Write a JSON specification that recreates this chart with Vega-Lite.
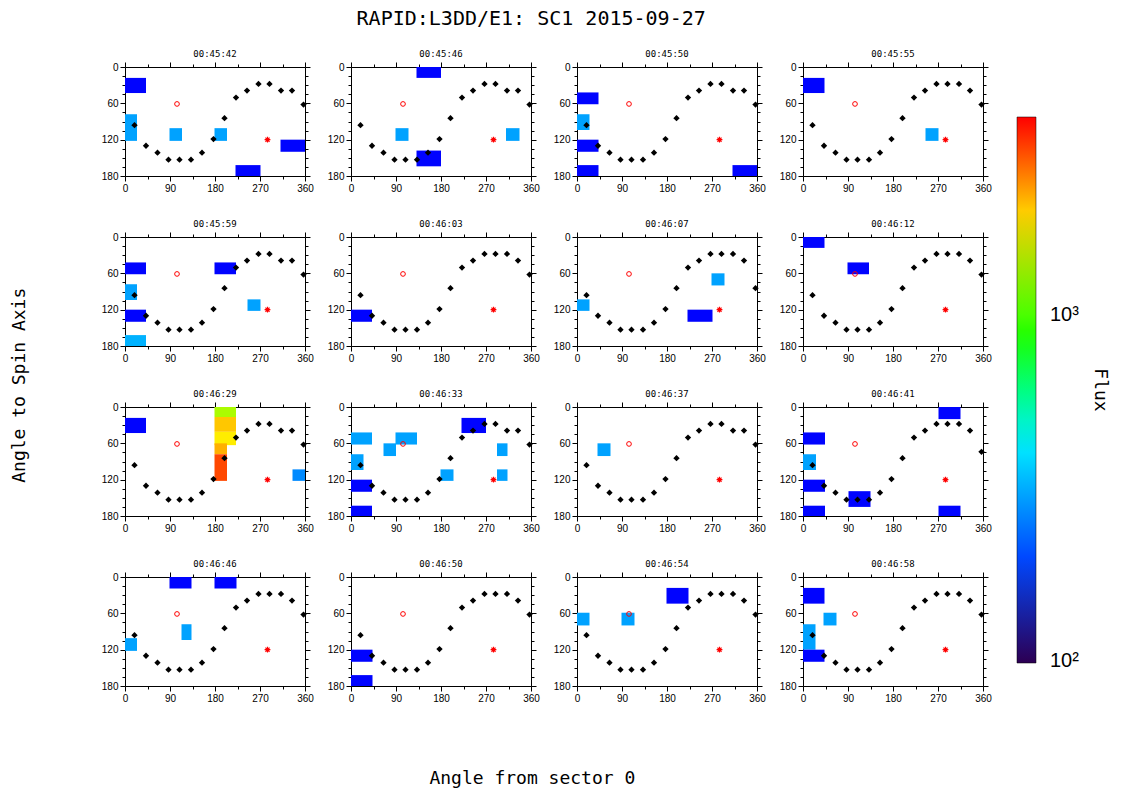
{
  "$schema": "https://vega.github.io/schema/vega-lite/v6.json",
  "padding": {"left": 11, "top": 8, "right": 5, "bottom": 5},
  "title": {"text": "RAPID:L3DD/E1: SC1 2015-09-27", "fontSize": 20, "fontWeight": "normal", "font": "DejaVu Sans Mono", "anchor": "middle", "frame": "bounds", "dx": -29, "offset": 21, "color": "black"},
  "data": {"values": [
    {"t":"00:45:42","k":"c","x":0,"x2":42,"y":18,"y2":43,"f":144},
    {"t":"00:45:42","k":"c","x":0,"x2":24,"y":78,"y2":122,"f":302},
    {"t":"00:45:42","k":"c","x":89,"x2":114,"y":101,"y2":122,"f":302},
    {"t":"00:45:42","k":"c","x":179,"x2":204,"y":101,"y2":122,"f":302},
    {"t":"00:45:42","k":"c","x":311,"x2":360,"y":120,"y2":140,"f":144},
    {"t":"00:45:42","k":"c","x":221,"x2":271,"y":162,"y2":180,"f":144},
    {"t":"00:45:46","k":"c","x":131,"x2":180,"y":0,"y2":18,"f":144},
    {"t":"00:45:46","k":"c","x":89,"x2":115,"y":101,"y2":122,"f":302},
    {"t":"00:45:46","k":"c","x":131,"x2":180,"y":138,"y2":164,"f":144},
    {"t":"00:45:46","k":"c","x":310,"x2":337,"y":101,"y2":122,"f":302},
    {"t":"00:45:50","k":"c","x":0,"x2":43,"y":42,"y2":61.5,"f":144},
    {"t":"00:45:50","k":"c","x":0,"x2":25,"y":78,"y2":104,"f":302},
    {"t":"00:45:50","k":"c","x":0,"x2":43,"y":120,"y2":140,"f":144},
    {"t":"00:45:50","k":"c","x":0,"x2":43,"y":162,"y2":180,"f":144},
    {"t":"00:45:50","k":"c","x":311,"x2":360,"y":162,"y2":180,"f":144},
    {"t":"00:45:55","k":"c","x":0,"x2":43,"y":18,"y2":43,"f":144},
    {"t":"00:45:55","k":"c","x":245,"x2":271,"y":101,"y2":122,"f":302},
    {"t":"00:45:59","k":"c","x":0,"x2":42,"y":42,"y2":61.5,"f":144},
    {"t":"00:45:59","k":"c","x":0,"x2":24,"y":78,"y2":104,"f":302},
    {"t":"00:45:59","k":"c","x":0,"x2":42,"y":120,"y2":140,"f":144},
    {"t":"00:45:59","k":"c","x":0,"x2":42,"y":162,"y2":180,"f":324},
    {"t":"00:45:59","k":"c","x":179,"x2":222,"y":42,"y2":61.5,"f":144},
    {"t":"00:45:59","k":"c","x":245,"x2":271,"y":103,"y2":122,"f":302},
    {"t":"00:46:03","k":"c","x":0,"x2":42,"y":120,"y2":140,"f":144},
    {"t":"00:46:07","k":"c","x":0,"x2":25,"y":103,"y2":122,"f":302},
    {"t":"00:46:07","k":"c","x":269,"x2":295,"y":60,"y2":80,"f":302},
    {"t":"00:46:07","k":"c","x":221,"x2":271,"y":120,"y2":140,"f":144},
    {"t":"00:46:12","k":"c","x":0,"x2":43,"y":0,"y2":18,"f":144},
    {"t":"00:46:12","k":"c","x":89,"x2":132,"y":42,"y2":61.5,"f":144},
    {"t":"00:46:29","k":"c","x":0,"x2":42,"y":18,"y2":43,"f":144},
    {"t":"00:46:29","k":"c","x":179,"x2":222,"y":0,"y2":16.5,"f":1345},
    {"t":"00:46:29","k":"c","x":179,"x2":222,"y":16.5,"y2":41,"f":2024},
    {"t":"00:46:29","k":"c","x":179,"x2":222,"y":41,"y2":63,"f":1803},
    {"t":"00:46:29","k":"c","x":179,"x2":204,"y":60,"y2":78,"f":2176},
    {"t":"00:46:29","k":"c","x":179,"x2":204,"y":78,"y2":122,"f":2985},
    {"t":"00:46:29","k":"c","x":335,"x2":360,"y":103,"y2":122,"f":270},
    {"t":"00:46:33","k":"c","x":0,"x2":42,"y":42,"y2":62,"f":302},
    {"t":"00:46:33","k":"c","x":0,"x2":25,"y":78,"y2":104,"f":302},
    {"t":"00:46:33","k":"c","x":0,"x2":42,"y":120,"y2":140,"f":144},
    {"t":"00:46:33","k":"c","x":0,"x2":42,"y":163,"y2":180,"f":144},
    {"t":"00:46:33","k":"c","x":65,"x2":90,"y":60,"y2":81,"f":302},
    {"t":"00:46:33","k":"c","x":89,"x2":132,"y":42,"y2":62,"f":302},
    {"t":"00:46:33","k":"c","x":221,"x2":270,"y":18,"y2":43,"f":144},
    {"t":"00:46:33","k":"c","x":179,"x2":205,"y":103,"y2":122,"f":302},
    {"t":"00:46:33","k":"c","x":292,"x2":313,"y":60,"y2":81,"f":302},
    {"t":"00:46:33","k":"c","x":292,"x2":313,"y":103,"y2":122,"f":302},
    {"t":"00:46:37","k":"c","x":41,"x2":67,"y":60,"y2":81,"f":302},
    {"t":"00:46:41","k":"c","x":0,"x2":44,"y":42,"y2":62,"f":144},
    {"t":"00:46:41","k":"c","x":0,"x2":26,"y":78,"y2":104,"f":302},
    {"t":"00:46:41","k":"c","x":0,"x2":44,"y":120,"y2":140,"f":144},
    {"t":"00:46:41","k":"c","x":0,"x2":44,"y":163,"y2":180,"f":144},
    {"t":"00:46:41","k":"c","x":91,"x2":135,"y":139,"y2":165,"f":144},
    {"t":"00:46:41","k":"c","x":271,"x2":315,"y":0,"y2":20,"f":144},
    {"t":"00:46:41","k":"c","x":271,"x2":315,"y":163,"y2":180,"f":144},
    {"t":"00:46:46","k":"c","x":89,"x2":133,"y":0,"y2":19,"f":144},
    {"t":"00:46:46","k":"c","x":179,"x2":223,"y":0,"y2":19,"f":144},
    {"t":"00:46:46","k":"c","x":113,"x2":133,"y":78,"y2":104,"f":302},
    {"t":"00:46:46","k":"c","x":0,"x2":24,"y":101,"y2":122,"f":302},
    {"t":"00:46:50","k":"c","x":0,"x2":43,"y":120,"y2":140,"f":144},
    {"t":"00:46:50","k":"c","x":0,"x2":43,"y":162,"y2":180,"f":144},
    {"t":"00:46:54","k":"c","x":0,"x2":25,"y":59,"y2":80,"f":302},
    {"t":"00:46:54","k":"c","x":89,"x2":115,"y":59,"y2":80,"f":302},
    {"t":"00:46:54","k":"c","x":179,"x2":223,"y":18,"y2":44,"f":144},
    {"t":"00:46:58","k":"c","x":0,"x2":43,"y":18,"y2":44,"f":144},
    {"t":"00:46:58","k":"c","x":41,"x2":67,"y":59,"y2":80,"f":302},
    {"t":"00:46:58","k":"c","x":0,"x2":25,"y":78,"y2":120,"f":302},
    {"t":"00:46:58","k":"c","x":0,"x2":43,"y":120,"y2":140,"f":144},

    {"t":"00:45:42","k":"d","x":19,"y":96},{"t":"00:45:42","k":"d","x":42,"y":130},{"t":"00:45:42","k":"d","x":65,"y":141.5},{"t":"00:45:42","k":"d","x":87,"y":153},{"t":"00:45:42","k":"d","x":109,"y":153},{"t":"00:45:42","k":"d","x":132,"y":153},{"t":"00:45:42","k":"d","x":154,"y":141.5},{"t":"00:45:42","k":"d","x":177,"y":119},{"t":"00:45:42","k":"d","x":199,"y":84.5},{"t":"00:45:42","k":"d","x":222,"y":50.5},{"t":"00:45:42","k":"d","x":244,"y":39},{"t":"00:45:42","k":"d","x":267,"y":28},{"t":"00:45:42","k":"d","x":289,"y":28},{"t":"00:45:42","k":"d","x":312,"y":39},{"t":"00:45:42","k":"d","x":334,"y":39},{"t":"00:45:42","k":"d","x":357,"y":62},
    {"t":"00:45:46","k":"d","x":19,"y":96},{"t":"00:45:46","k":"d","x":42,"y":130},{"t":"00:45:46","k":"d","x":65,"y":141.5},{"t":"00:45:46","k":"d","x":87,"y":153},{"t":"00:45:46","k":"d","x":109,"y":153},{"t":"00:45:46","k":"d","x":132,"y":153},{"t":"00:45:46","k":"d","x":154,"y":141.5},{"t":"00:45:46","k":"d","x":177,"y":119},{"t":"00:45:46","k":"d","x":199,"y":84.5},{"t":"00:45:46","k":"d","x":222,"y":50.5},{"t":"00:45:46","k":"d","x":244,"y":39},{"t":"00:45:46","k":"d","x":267,"y":28},{"t":"00:45:46","k":"d","x":289,"y":28},{"t":"00:45:46","k":"d","x":312,"y":39},{"t":"00:45:46","k":"d","x":334,"y":39},{"t":"00:45:46","k":"d","x":357,"y":62},
    {"t":"00:45:50","k":"d","x":19,"y":96},{"t":"00:45:50","k":"d","x":42,"y":130},{"t":"00:45:50","k":"d","x":65,"y":141.5},{"t":"00:45:50","k":"d","x":87,"y":153},{"t":"00:45:50","k":"d","x":109,"y":153},{"t":"00:45:50","k":"d","x":132,"y":153},{"t":"00:45:50","k":"d","x":154,"y":141.5},{"t":"00:45:50","k":"d","x":177,"y":119},{"t":"00:45:50","k":"d","x":199,"y":84.5},{"t":"00:45:50","k":"d","x":222,"y":50.5},{"t":"00:45:50","k":"d","x":244,"y":39},{"t":"00:45:50","k":"d","x":267,"y":28},{"t":"00:45:50","k":"d","x":289,"y":28},{"t":"00:45:50","k":"d","x":312,"y":39},{"t":"00:45:50","k":"d","x":334,"y":39},{"t":"00:45:50","k":"d","x":357,"y":62},
    {"t":"00:45:55","k":"d","x":19,"y":96},{"t":"00:45:55","k":"d","x":42,"y":130},{"t":"00:45:55","k":"d","x":65,"y":141.5},{"t":"00:45:55","k":"d","x":87,"y":153},{"t":"00:45:55","k":"d","x":109,"y":153},{"t":"00:45:55","k":"d","x":132,"y":153},{"t":"00:45:55","k":"d","x":154,"y":141.5},{"t":"00:45:55","k":"d","x":177,"y":119},{"t":"00:45:55","k":"d","x":199,"y":84.5},{"t":"00:45:55","k":"d","x":222,"y":50.5},{"t":"00:45:55","k":"d","x":244,"y":39},{"t":"00:45:55","k":"d","x":267,"y":28},{"t":"00:45:55","k":"d","x":289,"y":28},{"t":"00:45:55","k":"d","x":312,"y":28},{"t":"00:45:55","k":"d","x":334,"y":39},{"t":"00:45:55","k":"d","x":357,"y":62},
    {"t":"00:45:59","k":"d","x":19,"y":96},{"t":"00:45:59","k":"d","x":42,"y":130},{"t":"00:45:59","k":"d","x":65,"y":141.5},{"t":"00:45:59","k":"d","x":87,"y":153},{"t":"00:45:59","k":"d","x":109,"y":153},{"t":"00:45:59","k":"d","x":132,"y":153},{"t":"00:45:59","k":"d","x":154,"y":141.5},{"t":"00:45:59","k":"d","x":177,"y":119},{"t":"00:45:59","k":"d","x":199,"y":84.5},{"t":"00:45:59","k":"d","x":222,"y":50.5},{"t":"00:45:59","k":"d","x":244,"y":39},{"t":"00:45:59","k":"d","x":267,"y":28},{"t":"00:45:59","k":"d","x":289,"y":28},{"t":"00:45:59","k":"d","x":312,"y":39},{"t":"00:45:59","k":"d","x":334,"y":39},{"t":"00:45:59","k":"d","x":357,"y":62},
    {"t":"00:46:03","k":"d","x":19,"y":96},{"t":"00:46:03","k":"d","x":42,"y":130},{"t":"00:46:03","k":"d","x":65,"y":141.5},{"t":"00:46:03","k":"d","x":87,"y":153},{"t":"00:46:03","k":"d","x":109,"y":153},{"t":"00:46:03","k":"d","x":132,"y":153},{"t":"00:46:03","k":"d","x":154,"y":141.5},{"t":"00:46:03","k":"d","x":177,"y":119},{"t":"00:46:03","k":"d","x":199,"y":84.5},{"t":"00:46:03","k":"d","x":222,"y":50.5},{"t":"00:46:03","k":"d","x":244,"y":39},{"t":"00:46:03","k":"d","x":267,"y":28},{"t":"00:46:03","k":"d","x":289,"y":28},{"t":"00:46:03","k":"d","x":312,"y":28},{"t":"00:46:03","k":"d","x":334,"y":39},{"t":"00:46:03","k":"d","x":357,"y":62},
    {"t":"00:46:07","k":"d","x":19,"y":96},{"t":"00:46:07","k":"d","x":42,"y":130},{"t":"00:46:07","k":"d","x":65,"y":141.5},{"t":"00:46:07","k":"d","x":87,"y":153},{"t":"00:46:07","k":"d","x":109,"y":153},{"t":"00:46:07","k":"d","x":132,"y":153},{"t":"00:46:07","k":"d","x":154,"y":141.5},{"t":"00:46:07","k":"d","x":177,"y":119},{"t":"00:46:07","k":"d","x":199,"y":84.5},{"t":"00:46:07","k":"d","x":222,"y":50.5},{"t":"00:46:07","k":"d","x":244,"y":39},{"t":"00:46:07","k":"d","x":267,"y":28},{"t":"00:46:07","k":"d","x":289,"y":28},{"t":"00:46:07","k":"d","x":312,"y":28},{"t":"00:46:07","k":"d","x":334,"y":39},{"t":"00:46:07","k":"d","x":357,"y":84.5},
    {"t":"00:46:12","k":"d","x":19,"y":96},{"t":"00:46:12","k":"d","x":42,"y":130},{"t":"00:46:12","k":"d","x":65,"y":141.5},{"t":"00:46:12","k":"d","x":87,"y":153},{"t":"00:46:12","k":"d","x":109,"y":153},{"t":"00:46:12","k":"d","x":132,"y":153},{"t":"00:46:12","k":"d","x":154,"y":141.5},{"t":"00:46:12","k":"d","x":177,"y":119},{"t":"00:46:12","k":"d","x":199,"y":84.5},{"t":"00:46:12","k":"d","x":222,"y":50.5},{"t":"00:46:12","k":"d","x":244,"y":39},{"t":"00:46:12","k":"d","x":267,"y":28},{"t":"00:46:12","k":"d","x":289,"y":28},{"t":"00:46:12","k":"d","x":312,"y":28},{"t":"00:46:12","k":"d","x":334,"y":39},{"t":"00:46:12","k":"d","x":357,"y":62},
    {"t":"00:46:29","k":"d","x":19,"y":96},{"t":"00:46:29","k":"d","x":42,"y":130},{"t":"00:46:29","k":"d","x":65,"y":141.5},{"t":"00:46:29","k":"d","x":87,"y":153},{"t":"00:46:29","k":"d","x":109,"y":153},{"t":"00:46:29","k":"d","x":132,"y":153},{"t":"00:46:29","k":"d","x":154,"y":141.5},{"t":"00:46:29","k":"d","x":177,"y":119},{"t":"00:46:29","k":"d","x":199,"y":84.5},{"t":"00:46:29","k":"d","x":222,"y":50.5},{"t":"00:46:29","k":"d","x":244,"y":39},{"t":"00:46:29","k":"d","x":267,"y":28},{"t":"00:46:29","k":"d","x":289,"y":28},{"t":"00:46:29","k":"d","x":312,"y":39},{"t":"00:46:29","k":"d","x":334,"y":39},{"t":"00:46:29","k":"d","x":357,"y":62},
    {"t":"00:46:33","k":"d","x":19,"y":96},{"t":"00:46:33","k":"d","x":42,"y":130},{"t":"00:46:33","k":"d","x":65,"y":141.5},{"t":"00:46:33","k":"d","x":87,"y":153},{"t":"00:46:33","k":"d","x":109,"y":153},{"t":"00:46:33","k":"d","x":132,"y":153},{"t":"00:46:33","k":"d","x":154,"y":141.5},{"t":"00:46:33","k":"d","x":177,"y":119},{"t":"00:46:33","k":"d","x":199,"y":84.5},{"t":"00:46:33","k":"d","x":222,"y":50.5},{"t":"00:46:33","k":"d","x":244,"y":39},{"t":"00:46:33","k":"d","x":267,"y":28},{"t":"00:46:33","k":"d","x":289,"y":28},{"t":"00:46:33","k":"d","x":312,"y":39},{"t":"00:46:33","k":"d","x":334,"y":39},{"t":"00:46:33","k":"d","x":357,"y":62},
    {"t":"00:46:37","k":"d","x":19,"y":96},{"t":"00:46:37","k":"d","x":42,"y":130},{"t":"00:46:37","k":"d","x":65,"y":141.5},{"t":"00:46:37","k":"d","x":87,"y":153},{"t":"00:46:37","k":"d","x":109,"y":153},{"t":"00:46:37","k":"d","x":132,"y":153},{"t":"00:46:37","k":"d","x":154,"y":141.5},{"t":"00:46:37","k":"d","x":177,"y":119},{"t":"00:46:37","k":"d","x":199,"y":84.5},{"t":"00:46:37","k":"d","x":222,"y":50.5},{"t":"00:46:37","k":"d","x":244,"y":39},{"t":"00:46:37","k":"d","x":267,"y":28},{"t":"00:46:37","k":"d","x":289,"y":28},{"t":"00:46:37","k":"d","x":312,"y":39},{"t":"00:46:37","k":"d","x":334,"y":39},{"t":"00:46:37","k":"d","x":357,"y":62},
    {"t":"00:46:41","k":"d","x":19,"y":96},{"t":"00:46:41","k":"d","x":42,"y":130},{"t":"00:46:41","k":"d","x":65,"y":141.5},{"t":"00:46:41","k":"d","x":87,"y":153},{"t":"00:46:41","k":"d","x":109,"y":153},{"t":"00:46:41","k":"d","x":132,"y":153},{"t":"00:46:41","k":"d","x":154,"y":141.5},{"t":"00:46:41","k":"d","x":177,"y":119},{"t":"00:46:41","k":"d","x":199,"y":84.5},{"t":"00:46:41","k":"d","x":222,"y":50.5},{"t":"00:46:41","k":"d","x":244,"y":39},{"t":"00:46:41","k":"d","x":267,"y":28},{"t":"00:46:41","k":"d","x":289,"y":28},{"t":"00:46:41","k":"d","x":312,"y":28},{"t":"00:46:41","k":"d","x":334,"y":39},{"t":"00:46:41","k":"d","x":357,"y":74},
    {"t":"00:46:46","k":"d","x":19,"y":96},{"t":"00:46:46","k":"d","x":42,"y":130},{"t":"00:46:46","k":"d","x":65,"y":141.5},{"t":"00:46:46","k":"d","x":87,"y":153},{"t":"00:46:46","k":"d","x":109,"y":153},{"t":"00:46:46","k":"d","x":132,"y":153},{"t":"00:46:46","k":"d","x":154,"y":141.5},{"t":"00:46:46","k":"d","x":177,"y":119},{"t":"00:46:46","k":"d","x":199,"y":84.5},{"t":"00:46:46","k":"d","x":222,"y":50.5},{"t":"00:46:46","k":"d","x":244,"y":39},{"t":"00:46:46","k":"d","x":267,"y":28},{"t":"00:46:46","k":"d","x":289,"y":28},{"t":"00:46:46","k":"d","x":312,"y":28},{"t":"00:46:46","k":"d","x":334,"y":39},{"t":"00:46:46","k":"d","x":357,"y":62},
    {"t":"00:46:50","k":"d","x":19,"y":96},{"t":"00:46:50","k":"d","x":42,"y":130},{"t":"00:46:50","k":"d","x":65,"y":141.5},{"t":"00:46:50","k":"d","x":87,"y":153},{"t":"00:46:50","k":"d","x":109,"y":153},{"t":"00:46:50","k":"d","x":132,"y":153},{"t":"00:46:50","k":"d","x":154,"y":141.5},{"t":"00:46:50","k":"d","x":177,"y":119},{"t":"00:46:50","k":"d","x":199,"y":84.5},{"t":"00:46:50","k":"d","x":222,"y":50.5},{"t":"00:46:50","k":"d","x":244,"y":39},{"t":"00:46:50","k":"d","x":267,"y":28},{"t":"00:46:50","k":"d","x":289,"y":28},{"t":"00:46:50","k":"d","x":312,"y":28},{"t":"00:46:50","k":"d","x":334,"y":39},{"t":"00:46:50","k":"d","x":357,"y":62},
    {"t":"00:46:54","k":"d","x":19,"y":96},{"t":"00:46:54","k":"d","x":42,"y":130},{"t":"00:46:54","k":"d","x":65,"y":141.5},{"t":"00:46:54","k":"d","x":87,"y":153},{"t":"00:46:54","k":"d","x":109,"y":153},{"t":"00:46:54","k":"d","x":132,"y":153},{"t":"00:46:54","k":"d","x":154,"y":141.5},{"t":"00:46:54","k":"d","x":177,"y":119},{"t":"00:46:54","k":"d","x":199,"y":84.5},{"t":"00:46:54","k":"d","x":222,"y":50.5},{"t":"00:46:54","k":"d","x":244,"y":39},{"t":"00:46:54","k":"d","x":267,"y":28},{"t":"00:46:54","k":"d","x":289,"y":28},{"t":"00:46:54","k":"d","x":312,"y":28},{"t":"00:46:54","k":"d","x":334,"y":39},{"t":"00:46:54","k":"d","x":357,"y":62},
    {"t":"00:46:58","k":"d","x":19,"y":96},{"t":"00:46:58","k":"d","x":42,"y":130},{"t":"00:46:58","k":"d","x":65,"y":141.5},{"t":"00:46:58","k":"d","x":87,"y":153},{"t":"00:46:58","k":"d","x":109,"y":153},{"t":"00:46:58","k":"d","x":132,"y":153},{"t":"00:46:58","k":"d","x":154,"y":141.5},{"t":"00:46:58","k":"d","x":177,"y":119},{"t":"00:46:58","k":"d","x":199,"y":84.5},{"t":"00:46:58","k":"d","x":222,"y":50.5},{"t":"00:46:58","k":"d","x":244,"y":39},{"t":"00:46:58","k":"d","x":267,"y":28},{"t":"00:46:58","k":"d","x":289,"y":28},{"t":"00:46:58","k":"d","x":312,"y":28},{"t":"00:46:58","k":"d","x":334,"y":39},{"t":"00:46:58","k":"d","x":357,"y":62},

    {"t":"00:45:42","k":"o","x":104,"y":61},{"t":"00:45:46","k":"o","x":104,"y":61},{"t":"00:45:50","k":"o","x":104,"y":61},{"t":"00:45:55","k":"o","x":104,"y":61},
    {"t":"00:45:59","k":"o","x":104,"y":61},{"t":"00:46:03","k":"o","x":104,"y":61},{"t":"00:46:07","k":"o","x":104,"y":61},{"t":"00:46:12","k":"o","x":104,"y":61},
    {"t":"00:46:29","k":"o","x":104,"y":61},{"t":"00:46:33","k":"o","x":104,"y":61},{"t":"00:46:37","k":"o","x":104,"y":61},{"t":"00:46:41","k":"o","x":104,"y":61},
    {"t":"00:46:46","k":"o","x":104,"y":61},{"t":"00:46:50","k":"o","x":104,"y":61},{"t":"00:46:54","k":"o","x":104,"y":61},{"t":"00:46:58","k":"o","x":104,"y":61},
    {"t":"00:45:42","k":"s","x":285,"y":120},{"t":"00:45:46","k":"s","x":285,"y":120},{"t":"00:45:50","k":"s","x":285,"y":120},{"t":"00:45:55","k":"s","x":285,"y":120},
    {"t":"00:45:59","k":"s","x":285,"y":120},{"t":"00:46:03","k":"s","x":285,"y":120},{"t":"00:46:07","k":"s","x":285,"y":120},{"t":"00:46:12","k":"s","x":285,"y":120},
    {"t":"00:46:29","k":"s","x":285,"y":120},{"t":"00:46:33","k":"s","x":285,"y":120},{"t":"00:46:37","k":"s","x":285,"y":120},{"t":"00:46:41","k":"s","x":285,"y":120},
    {"t":"00:46:46","k":"s","x":285,"y":120},{"t":"00:46:50","k":"s","x":285,"y":120},{"t":"00:46:54","k":"s","x":285,"y":120},{"t":"00:46:58","k":"s","x":285,"y":120}
  ]},
  "vconcat": [{
    "title": {"text": "Angle from sector 0", "orient": "bottom", "anchor": "middle", "dx": 31, "fontSize": 18, "fontWeight": "normal", "font": "DejaVu Sans Mono", "offset": 67, "color": "black"},
    "hconcat": [{
      "title": {"text": "Angle to Spin Axis", "orient": "left", "anchor": "middle", "dx": -9, "fontSize": 18, "fontWeight": "normal", "font": "DejaVu Sans Mono", "offset": 72, "color": "black"},
      "facet": {"field": "t", "type": "ordinal", "title": null, "header": {"title": null, "labelFontSize": 9, "labelPadding": 3, "labelFont": "DejaVu Sans Mono", "labelColor": "black"}},
      "columns": 4,
      "spacing": {"row": 26, "column": 13},
      "resolve": {"axis": {"x": "independent", "y": "independent"}},
      "spec": {
        "width": 180,
        "height": 109,
        "layer": [
          {
            "transform": [{"filter": "datum.k == 'c'"}],
            "mark": {"type": "rect"},
            "encoding": {
              "x": {"field": "x", "type": "quantitative", "scale": {"domain": [0, 360], "nice": false, "zero": false},
                    "axis": {"orient": "bottom", "values": [0,45,90,135,180,225,270,315,360], "labelExpr": "datum.value % 90 == 0 ? datum.label : ''",
                             "tickSize": {"condition": {"test": "datum.value % 90 == 0", "value": 5}, "value": 3}, "labelFlush": false, "labelOverlap": false, "labelPadding": 2}},
              "x2": {"field": "x2"},
              "y": {"field": "y", "type": "quantitative", "scale": {"domain": [0, 180], "reverse": true, "nice": false, "zero": false},
                    "axis": {"orient": "left", "values": [0,15,30,45,60,75,90,105,120,135,150,165,180], "labelExpr": "datum.value % 60 == 0 ? datum.label : ''",
                             "tickSize": {"condition": {"test": "datum.value % 60 == 0", "value": 5}, "value": 3}, "labelFlush": false, "labelOverlap": false, "labelPadding": 2}},
              "y2": {"field": "y2"},
              "color": {"field": "f", "type": "quantitative",
                        "scale": {"type": "log", "domain": [99, 3715], "interpolate": "rgb",
                                  "range": ["#2d0050","#0000ff","#004dff","#009cff","#00edff","#00ff80","#1dff00","#96ff00","#ffee00","#ff7700","#ff0000"]},
                        "legend": {"title": "Flux", "orient": "none", "legendX": 892, "legendY": 50, "direction": "vertical",
                                   "gradientLength": 546, "gradientThickness": 19, "values": [100, 1000],
                                   "labelExpr": "datum.value == 100 ? '10²' : '10³'", "labelFontSize": 20, "labelFont": "Liberation Sans", "labelColor": "black", "labelOffset": 14, "labelBaseline": "middle",
                                   "titleOrient": "right", "titleAngle": 90, "titleFontSize": 18, "titleFontWeight": "normal", "titleFont": "DejaVu Sans Mono", "titleColor": "black", "titlePadding": 12, "titleAnchor": "middle",
                                   "gradientStrokeColor": "black", "gradientStrokeWidth": 0.5}}
            }
          },
          {
            "transform": [{"filter": "datum.k == 'd'"}],
            "mark": {"type": "point", "shape": "diamond", "filled": true, "color": "black", "size": 40, "opacity": 1},
            "encoding": {
              "x": {"field": "x", "type": "quantitative",
                    "axis": {"orient": "top", "values": [0,45,90,135,180,225,270,315,360], "labels": false,
                             "tickSize": {"condition": {"test": "datum.value % 90 == 0", "value": 5}, "value": 3}}},
              "y": {"field": "y", "type": "quantitative",
                    "axis": {"orient": "right", "values": [0,15,30,45,60,75,90,105,120,135,150,165,180], "labels": false,
                             "tickSize": {"condition": {"test": "datum.value % 60 == 0", "value": 5}, "value": 3}}}
            }
          },
          {
            "transform": [{"filter": "datum.k == 'o'"}],
            "mark": {"type": "point", "shape": "circle", "filled": false, "color": "#ff0000", "size": 22, "strokeWidth": 1, "opacity": 1},
            "encoding": {
              "x": {"field": "x", "type": "quantitative", "axis": null},
              "y": {"field": "y", "type": "quantitative", "axis": null}
            }
          },
          {
            "transform": [{"filter": "datum.k == 's'"}],
            "mark": {"type": "point", "shape": "M-1,0L1,0M0,-1L0,1M-0.7,-0.7L0.7,0.7M-0.7,0.7L0.7,-0.7", "filled": false, "color": "#ff0000", "size": 34, "strokeWidth": 1.2, "opacity": 1},
            "encoding": {
              "x": {"field": "x", "type": "quantitative", "axis": null},
              "y": {"field": "y", "type": "quantitative", "axis": null}
            }
          }
        ],
        "resolve": {"axis": {"x": "independent", "y": "independent"}}
      }
    }]
  }],
  "config": {
    "font": "Liberation Sans",
    "view": {"stroke": null},
    "axis": {"grid": false, "title": null, "domainColor": "black", "tickColor": "black", "labelColor": "black", "labelFontSize": 10, "labelFont": "Liberation Sans", "domainWidth": 1, "tickWidth": 1}
  }
}
